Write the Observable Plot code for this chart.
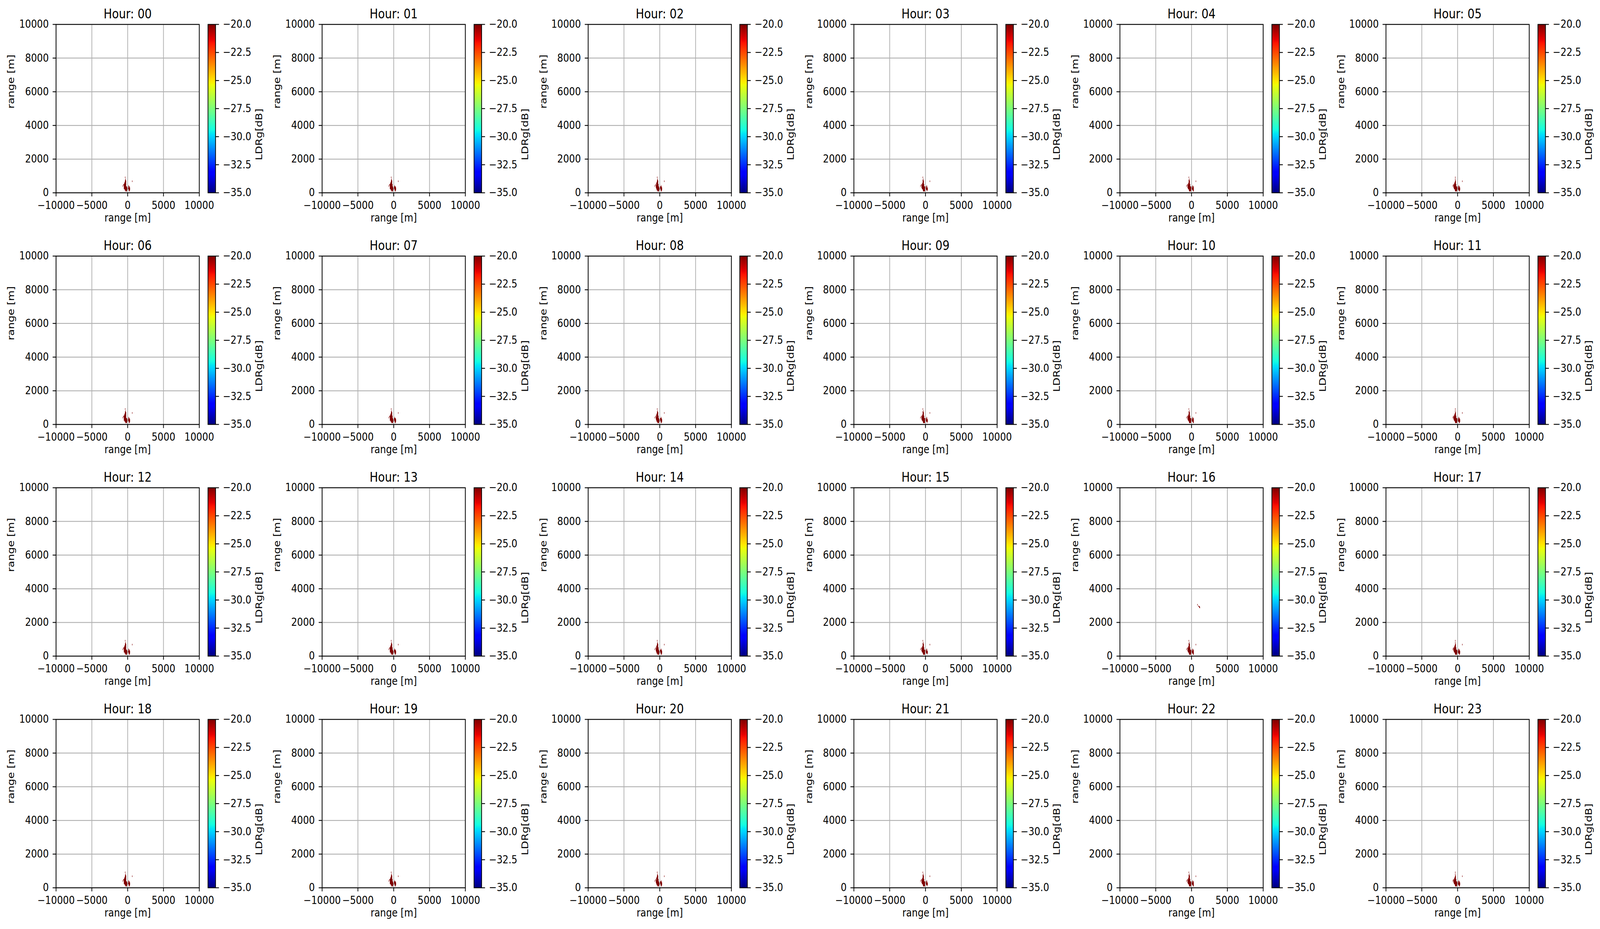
<!DOCTYPE html>
<html><head><meta charset="utf-8">
<script src="https://cdn.jsdelivr.net/npm/d3@7"></script>
<script src="https://cdn.jsdelivr.net/npm/@observablehq/plot@0.6"></script>
<style>
html,body{margin:0;padding:0;background:#fff;overflow:hidden;}
#fig{position:absolute;left:0;top:0;width:4781px;height:2378px;background:#fff;font-family:"DejaVu Sans";transform-origin:0 0;}
#fig .cell{position:absolute;}
#fig svg{display:block;overflow:visible;}
</style></head><body><div id="fig"></div>
<script>
// ---------- data ----------
const hours = ["00","01","02","03","04","05","06","07","08","09","10","11",
               "12","13","14","15","16","17","18","19","20","21","22","23"];
const xTicks = [-10000, -5000, 0, 5000, 10000];
const yTicks = [0, 2000, 4000, 6000, 8000, 10000];
const cbTicks = [-35, -32.5, -30, -27.5, -25, -22.5, -20];
const xDomain = [-10000, 10000];
const yDomain = [0, 10000];
const ldrDomain = [-35, -20];
const xLabel = "range [m]";
const yLabel = "range [m]";
const cbLabel = "LDRg[dB]";

// clutter echo near the radar (metres)
const blobRowY = [905, 800, 730, 673, 603, 534, 464, 394, 325, 255, 186, 116];
const blobRowX = [
  [-327],
  [-280],
  [-327, -280],
  [-327, -280, -234, 654],
  [-374, -327, -280, -234],
  [-420, -374, -327, -280, -234],
  [-560, -467, -420, -374, -327, -280, -234, -187],
  [-654, -514, -467, -420, -374, -327, -280, -234, -187, 187],
  [-514, -467, -420, -374, -327, -280, -234, -187, -140, -93, 93, 140, 234, 280],
  [-467, -420, -374, -327, -280, -234, -187, -140, -93, -47, 93, 140, 187, 234, 280, 327],
  [-374, -327, -280, -234, -187, -140, -93, -47, 140, 187, 234, 280, 327],
  [-280, -234, -187, -140, -93, 234, 280]
];
const blobLDR = -20;
// extra small echo seen only at hour 16
const extraHour = "16";
const extraX = [855, 930, 1000, 1060, 1120, 1170];
const extraY = [3040, 3000, 2960, 2930, 2900, 2880];

// ---------- colormap (matplotlib jet) ----------
const jetR = [[0,0],[0.35,0],[0.66,1],[0.89,1],[1,0.5]];
const jetG = [[0,0],[0.125,0],[0.375,1],[0.64,1],[0.91,0],[1,0]];
const jetB = [[0,0.5],[0.11,1],[0.34,1],[0.65,0],[1,0]];
function seg(s, t) {
  t = Math.max(0, Math.min(1, t));
  for (let i = 1; i < s.length; i++) {
    if (t <= s[i][0]) {
      const [t0, v0] = s[i-1], [t1, v1] = s[i];
      return v0 + (v1 - v0) * (t - t0) / (t1 - t0);
    }
  }
  return s[s.length-1][1];
}
function jet(t) {
  return d3.rgb(255*seg(jetR,t), 255*seg(jetG,t), 255*seg(jetB,t)).formatHex();
}

// ---------- layout ----------
const FW = 4781, FH = 2378;
const L0 = 167, T0 = 62.3, colStep = 794.8, rowStep = 592.9;
const PW = 428, PH = 431;
const ML = 165, MR = 15, MT = 70, MB = 100;
const cbOff = 453.7, cbW = 22.6, cbMR = 170;
const LW = 2.2, tickLen = 9.7, tickPad = 12;
const tickFont = 27.8, titleFont = 33.3;
const gridColor = "#b0b0b0";
const halfW = 26, halfH = 38;

const baseCells = [];
blobRowY.forEach((y, i) => blobRowX[i].forEach(x => baseCells.push({x, y, v: blobLDR})));
const extraCells = extraX.map((x, i) => ({x, y: extraY[i], v: blobLDR}));

const colorOpt = {type: "linear", domain: ldrDomain, interpolate: jet, clamp: true};
const svgStyle = {background: "transparent", fontFamily: "DejaVu Sans", fontSize: tickFont + "px", color: "black", maxWidth: "none", height: "auto"};

const fig = document.getElementById("fig");
// fit the 4781x2378 figure to the viewport actually given
const sx = Math.min(1, window.innerWidth / FW);
const sy = Math.min(1, window.innerHeight / FH);
fig.style.transform = `scale(${sx}, ${sy})`;
document.body.style.width = (FW * sx) + "px";
document.body.style.height = (FH * sy) + "px";

function place(node, left, top) {
  const d = document.createElement("div");
  d.className = "cell";
  d.style.left = left + "px";
  d.style.top = top + "px";
  d.appendChild(node);
  fig.appendChild(d);
}

hours.forEach((h, k) => {
  const r = Math.floor(k / 6), c = k % 6;
  const L = L0 + c * colStep, T = T0 + r * rowStep;
  const cells = h === extraHour ? baseCells.concat(extraCells) : baseCells;

  const panel = Plot.plot({
    width: PW + ML + MR, height: PH + MT + MB,
    marginLeft: ML, marginRight: MR, marginTop: MT, marginBottom: MB,
    style: svgStyle,
    x: {domain: xDomain}, y: {domain: yDomain},
    color: colorOpt,
    marks: [
      Plot.rect(cells, {x1: d => d.x - halfW, x2: d => d.x + halfW, y1: d => d.y - halfH, y2: d => d.y + halfH, fill: "v", shapeRendering: "crispEdges"}),
      Plot.gridX(xTicks, {stroke: gridColor, strokeOpacity: 1, strokeWidth: LW}),
      Plot.gridY(yTicks, {stroke: gridColor, strokeOpacity: 1, strokeWidth: LW}),
      Plot.frame({stroke: "black", strokeWidth: LW}),
      Plot.axisX(xTicks, {tickSize: tickLen, tickPadding: tickPad, strokeWidth: LW, tickFormat: d3.format("d"), label: null}),
      Plot.axisY(yTicks, {tickSize: tickLen, tickPadding: tickPad, strokeWidth: LW, tickFormat: d3.format("d"), label: null}),
      Plot.text([xLabel], {frameAnchor: "bottom", dy: 73, fontSize: tickFont}),
      Plot.text([yLabel], {frameAnchor: "left", dx: -134, rotate: -90, fontSize: tickFont}),
      Plot.text([`Hour: ${h}`], {frameAnchor: "top", lineAnchor: "bottom", dy: -16, fontSize: titleFont})
    ]
  });
  place(panel, L - ML, T - MT);

  const cbar = Plot.plot({
    width: cbW + cbMR, height: PH + MT + MB,
    marginLeft: 0, marginRight: cbMR, marginTop: MT, marginBottom: MB,
    style: svgStyle,
    x: {domain: [0, 1], axis: null}, y: {domain: ldrDomain},
    color: colorOpt,
    marks: [
      Plot.raster({x1: 0, x2: 1, y1: ldrDomain[0], y2: ldrDomain[1], width: 1, height: 400, fill: (x, y) => y}),
      Plot.frame({stroke: "black", strokeWidth: LW}),
      Plot.axisY(cbTicks, {anchor: "right", tickSize: tickLen, tickPadding: tickPad, strokeWidth: LW, tickFormat: d3.format(".1f"), label: null}),
      Plot.text([cbLabel], {frameAnchor: "right", dx: 130, rotate: -90, fontSize: tickFont})
    ]
  });
  place(cbar, L + cbOff, T - MT);
});
</script></body></html>
